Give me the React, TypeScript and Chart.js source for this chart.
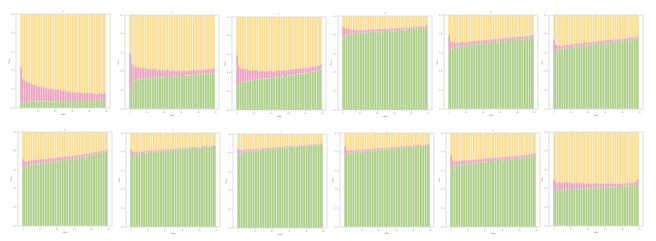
import React, { useEffect, useRef } from "react";
import { Chart, registerables } from "chart.js";

Chart.register(...registerables);

// ---------- data ----------
const STEPS = [0,1,2,3,4,5,6,7,8,9,10,11,12,13,14,15,16,17,18,19,20,21,22,23,24,25,26,27,28,29,30,31,32,33,34,35,36,37,38,39,40,41,42,43,44,45,46,47,48,49];
const X_TICKS = [0, 10, 20, 30, 40, 50];
const Y_TICKS = [0, 0.2, 0.4, 0.6, 0.8, 1.0];
const TOTAL = 1;
const TITLES = ["a", "b", "c", "d", "e", "f", "g", "h", "i", "j", "k", "l"];
const X_LABEL = "step";
const Y_LABEL = "frac";
const SERIES_NAMES = ["green", "pink", "yellow"];

// green segment top (share) for each panel
const P1_G = [0.05,0.06,0.065,0.065,0.068,0.07,0.068,0.068,0.07,0.07,0.07,0.071,0.07,0.071,0.07,0.072,0.072,0.07,0.072,0.071,0.072,0.073,0.072,0.074,0.073,0.072,0.074,0.073,0.074,0.075,0.074,0.073,0.075,0.074,0.075,0.076,0.074,0.075,0.076,0.075,0.076,0.077,0.075,0.076,0.077,0.076,0.077,0.078,0.077,0.078];
// pink segment top (cumulative share) for each panel
const P1_P = [0.44,0.31,0.29,0.28,0.27,0.27,0.26,0.25,0.25,0.24,0.23,0.23,0.22,0.23,0.21,0.22,0.21,0.2,0.21,0.2,0.19,0.2,0.19,0.19,0.18,0.19,0.18,0.17,0.18,0.17,0.17,0.16,0.17,0.16,0.17,0.16,0.15,0.16,0.15,0.16,0.15,0.16,0.15,0.15,0.14,0.15,0.16,0.15,0.15,0.16];

const P2_G = [0.21,0.29,0.3,0.31,0.31,0.315,0.32,0.32,0.32,0.325,0.325,0.33,0.33,0.33,0.335,0.335,0.335,0.34,0.34,0.34,0.34,0.345,0.345,0.345,0.35,0.35,0.35,0.35,0.355,0.355,0.355,0.355,0.36,0.36,0.36,0.36,0.365,0.365,0.365,0.365,0.37,0.37,0.37,0.37,0.375,0.375,0.375,0.38,0.38,0.385];
const P2_P = [0.59,0.48,0.46,0.45,0.44,0.45,0.44,0.43,0.44,0.43,0.43,0.42,0.43,0.42,0.43,0.42,0.41,0.42,0.41,0.42,0.41,0.41,0.42,0.41,0.4,0.41,0.41,0.4,0.41,0.41,0.4,0.41,0.41,0.4,0.41,0.41,0.41,0.42,0.41,0.41,0.42,0.41,0.42,0.42,0.42,0.42,0.43,0.42,0.43,0.43];

const P3_G = [0.25,0.29,0.3,0.305,0.31,0.31,0.315,0.32,0.32,0.32,0.325,0.325,0.33,0.33,0.33,0.335,0.335,0.34,0.34,0.34,0.345,0.345,0.35,0.35,0.355,0.355,0.36,0.36,0.365,0.365,0.37,0.37,0.375,0.375,0.38,0.385,0.385,0.39,0.39,0.395,0.4,0.4,0.405,0.41,0.41,0.415,0.42,0.425,0.43,0.435];
const P3_P = [0.59,0.47,0.45,0.44,0.44,0.43,0.44,0.43,0.42,0.43,0.42,0.43,0.42,0.41,0.42,0.42,0.41,0.42,0.41,0.42,0.42,0.41,0.42,0.42,0.43,0.42,0.42,0.43,0.42,0.43,0.43,0.43,0.44,0.43,0.44,0.44,0.44,0.45,0.45,0.45,0.46,0.45,0.46,0.46,0.47,0.46,0.47,0.47,0.48,0.49];

const P4_G = [0.77,0.79,0.8,0.805,0.81,0.81,0.815,0.815,0.815,0.82,0.82,0.82,0.82,0.825,0.825,0.825,0.83,0.83,0.83,0.83,0.835,0.835,0.835,0.835,0.84,0.84,0.84,0.84,0.845,0.845,0.845,0.845,0.85,0.85,0.85,0.855,0.855,0.855,0.86,0.86,0.86,0.865,0.865,0.865,0.87,0.87,0.87,0.875,0.875,0.88];
const P4_P = [0.89,0.87,0.86,0.87,0.86,0.85,0.86,0.85,0.85,0.855,0.85,0.855,0.855,0.85,0.855,0.86,0.855,0.86,0.86,0.855,0.86,0.86,0.865,0.86,0.865,0.865,0.86,0.865,0.87,0.865,0.87,0.87,0.87,0.875,0.87,0.875,0.875,0.88,0.875,0.88,0.88,0.885,0.885,0.885,0.89,0.89,0.89,0.895,0.895,0.9];

const P5_G = [0.6,0.64,0.65,0.655,0.66,0.66,0.665,0.67,0.67,0.675,0.675,0.68,0.68,0.685,0.685,0.69,0.69,0.69,0.695,0.695,0.7,0.7,0.7,0.705,0.705,0.71,0.71,0.71,0.715,0.715,0.72,0.72,0.72,0.725,0.725,0.73,0.73,0.73,0.735,0.735,0.74,0.74,0.74,0.745,0.745,0.75,0.75,0.75,0.755,0.76];
const P5_P = [0.79,0.72,0.71,0.71,0.7,0.71,0.7,0.71,0.71,0.7,0.71,0.71,0.72,0.71,0.72,0.72,0.72,0.73,0.72,0.73,0.73,0.73,0.74,0.73,0.74,0.74,0.74,0.75,0.74,0.75,0.75,0.75,0.75,0.76,0.75,0.76,0.76,0.76,0.77,0.76,0.77,0.77,0.77,0.78,0.77,0.78,0.78,0.78,0.79,0.79];

const P6_G = [0.6,0.62,0.63,0.635,0.64,0.64,0.645,0.65,0.65,0.655,0.655,0.66,0.66,0.665,0.665,0.67,0.67,0.675,0.675,0.68,0.68,0.68,0.685,0.685,0.69,0.69,0.695,0.695,0.7,0.7,0.7,0.705,0.705,0.71,0.71,0.715,0.715,0.72,0.72,0.725,0.725,0.73,0.73,0.735,0.735,0.74,0.74,0.745,0.75,0.755];
const P6_P = [0.74,0.69,0.68,0.68,0.67,0.68,0.68,0.68,0.69,0.68,0.69,0.69,0.69,0.7,0.69,0.7,0.7,0.7,0.71,0.7,0.71,0.71,0.71,0.72,0.71,0.72,0.72,0.72,0.73,0.72,0.73,0.73,0.73,0.74,0.73,0.74,0.74,0.74,0.75,0.74,0.75,0.75,0.75,0.76,0.76,0.76,0.76,0.77,0.77,0.78];

const P7_G = [0.61,0.63,0.64,0.645,0.65,0.65,0.655,0.66,0.66,0.665,0.665,0.67,0.67,0.675,0.675,0.68,0.68,0.685,0.685,0.69,0.69,0.695,0.7,0.7,0.705,0.705,0.71,0.71,0.715,0.72,0.72,0.725,0.725,0.73,0.735,0.735,0.74,0.74,0.745,0.75,0.75,0.755,0.76,0.765,0.77,0.775,0.78,0.785,0.79,0.8];
const P7_P = [0.71,0.69,0.69,0.69,0.695,0.7,0.7,0.7,0.705,0.705,0.71,0.71,0.71,0.715,0.715,0.72,0.72,0.72,0.725,0.725,0.73,0.73,0.735,0.735,0.74,0.74,0.74,0.745,0.745,0.75,0.75,0.755,0.755,0.76,0.76,0.765,0.765,0.77,0.77,0.775,0.775,0.78,0.785,0.79,0.79,0.795,0.8,0.805,0.81,0.82];

const P8_G = [0.74,0.76,0.77,0.775,0.78,0.78,0.785,0.785,0.79,0.79,0.79,0.795,0.795,0.8,0.8,0.8,0.805,0.805,0.81,0.81,0.81,0.815,0.815,0.815,0.82,0.82,0.82,0.825,0.825,0.825,0.83,0.83,0.83,0.835,0.835,0.835,0.84,0.84,0.84,0.845,0.845,0.845,0.85,0.85,0.85,0.855,0.855,0.86,0.86,0.865];
const P8_P = [0.83,0.8,0.8,0.8,0.805,0.8,0.805,0.81,0.81,0.81,0.81,0.815,0.815,0.815,0.82,0.82,0.82,0.82,0.825,0.825,0.825,0.83,0.83,0.83,0.83,0.835,0.835,0.835,0.84,0.84,0.84,0.84,0.845,0.845,0.845,0.85,0.85,0.85,0.85,0.855,0.855,0.855,0.86,0.86,0.86,0.865,0.865,0.865,0.87,0.875];

const P9_G = [0.78,0.8,0.805,0.81,0.81,0.815,0.815,0.82,0.82,0.82,0.825,0.825,0.83,0.83,0.83,0.835,0.835,0.835,0.84,0.84,0.84,0.845,0.845,0.845,0.85,0.85,0.85,0.855,0.855,0.855,0.86,0.86,0.86,0.865,0.865,0.865,0.87,0.87,0.87,0.875,0.875,0.875,0.88,0.88,0.88,0.885,0.885,0.89,0.89,0.895];
const P9_P = [0.85,0.83,0.83,0.83,0.835,0.835,0.835,0.84,0.84,0.84,0.84,0.845,0.845,0.845,0.85,0.85,0.85,0.85,0.855,0.855,0.855,0.86,0.86,0.86,0.86,0.865,0.865,0.865,0.87,0.87,0.87,0.87,0.875,0.875,0.875,0.88,0.88,0.88,0.88,0.885,0.885,0.885,0.89,0.89,0.89,0.895,0.895,0.895,0.9,0.905];

const P10_G = [0.76,0.78,0.785,0.79,0.79,0.795,0.795,0.8,0.8,0.8,0.805,0.805,0.81,0.81,0.81,0.815,0.815,0.815,0.82,0.82,0.82,0.825,0.825,0.825,0.83,0.83,0.83,0.835,0.835,0.835,0.84,0.84,0.84,0.845,0.845,0.845,0.85,0.85,0.85,0.855,0.855,0.855,0.86,0.86,0.86,0.865,0.865,0.87,0.87,0.875];
const P10_P = [0.86,0.82,0.815,0.815,0.82,0.815,0.82,0.82,0.825,0.82,0.825,0.825,0.83,0.83,0.83,0.83,0.835,0.835,0.835,0.84,0.84,0.84,0.84,0.845,0.845,0.845,0.85,0.85,0.85,0.85,0.855,0.855,0.855,0.86,0.86,0.86,0.86,0.865,0.865,0.865,0.87,0.87,0.87,0.875,0.875,0.875,0.88,0.88,0.885,0.89];

const P11_G = [0.62,0.645,0.65,0.655,0.66,0.66,0.665,0.665,0.67,0.67,0.675,0.675,0.68,0.68,0.68,0.685,0.685,0.69,0.69,0.69,0.695,0.695,0.7,0.7,0.7,0.705,0.705,0.71,0.71,0.71,0.715,0.715,0.72,0.72,0.72,0.725,0.725,0.73,0.73,0.73,0.735,0.735,0.74,0.74,0.74,0.745,0.745,0.75,0.75,0.755];
const P11_P = [0.77,0.71,0.7,0.7,0.705,0.7,0.705,0.71,0.71,0.705,0.71,0.715,0.715,0.72,0.715,0.72,0.72,0.725,0.72,0.725,0.73,0.73,0.73,0.735,0.735,0.735,0.74,0.74,0.74,0.745,0.745,0.745,0.75,0.75,0.75,0.755,0.755,0.755,0.76,0.76,0.76,0.765,0.765,0.765,0.77,0.77,0.775,0.775,0.78,0.785];

const P12_G = [0.36,0.375,0.38,0.38,0.385,0.385,0.385,0.39,0.39,0.39,0.39,0.395,0.395,0.395,0.395,0.4,0.4,0.4,0.4,0.4,0.405,0.405,0.405,0.405,0.405,0.41,0.41,0.41,0.41,0.41,0.41,0.415,0.415,0.415,0.415,0.415,0.42,0.42,0.42,0.42,0.42,0.425,0.425,0.425,0.425,0.43,0.43,0.435,0.44,0.455];
const P12_P = [0.5,0.47,0.46,0.47,0.46,0.465,0.46,0.47,0.46,0.465,0.46,0.455,0.46,0.465,0.455,0.46,0.455,0.46,0.45,0.455,0.46,0.455,0.45,0.455,0.46,0.455,0.45,0.455,0.45,0.455,0.45,0.455,0.45,0.45,0.455,0.45,0.455,0.45,0.455,0.45,0.455,0.45,0.455,0.46,0.455,0.46,0.46,0.465,0.47,0.5];

const GREEN_TOPS = [P1_G, P2_G, P3_G, P4_G, P5_G, P6_G, P7_G, P8_G, P9_G, P10_G, P11_G, P12_G];
const PINK_TOPS = [P1_P, P2_P, P3_P, P4_P, P5_P, P6_P, P7_P, P8_P, P9_P, P10_P, P11_P, P12_P];

// ---------- layout / style ----------
const COLORS = ["#aed08b", "#eca3bf", "#f9de95"];
const BOX_LEFT = [16, 124.5, 231.5, 337.5, 443.7, 548.7, 17.7, 125.7, 232.7, 339.7, 445.7, 548.7];
const BOX_TOP = [14, 15, 16.5, 16, 15, 15, 132, 133, 134, 133, 133, 132];
const BOX_W = 94;
const BOX_H = 93.5;
const PAD_L = 16, PAD_R = 6, PAD_T = 12, PAD_B = 12;
const TEXT_COLOR = "#8a8a8a";
const TICK_COLOR = "#cfcfcf";

const framePlugin = {
  id: "frame",
  afterDraw(chart: any) {
    const { ctx, chartArea: a, scales } = chart;
    const opts = chart.options.plugins.frame;
    const xs = scales.x, ys = scales.y;
    ctx.save();
    // box
    ctx.strokeStyle = "#d6d6d6";
    ctx.lineWidth = 0.8;
    ctx.strokeRect(a.left, a.top, a.right - a.left, a.bottom - a.top);
    // ticks
    ctx.strokeStyle = TICK_COLOR;
    ctx.lineWidth = 0.6;
    ctx.beginPath();
    X_TICKS.forEach((v) => {
      const px = xs.getPixelForValue(v);
      ctx.moveTo(px, a.bottom);
      ctx.lineTo(px, a.bottom + 1.5);
    });
    Y_TICKS.forEach((v) => {
      const py = ys.getPixelForValue(v);
      ctx.moveTo(a.left, py);
      ctx.lineTo(a.left - 1.5, py);
    });
    ctx.stroke();
    ctx.fillStyle = TEXT_COLOR;
    ctx.font = "2px 'DejaVu Sans'";
    ctx.textAlign = "center";
    ctx.textBaseline = "top";
    X_TICKS.forEach((v) => {
      ctx.fillText(String(v), xs.getPixelForValue(v), a.bottom + 2);
    });
    ctx.textAlign = "right";
    ctx.textBaseline = "middle";
    Y_TICKS.forEach((v) => {
      ctx.fillText(v.toFixed(1), a.left - 2, ys.getPixelForValue(v));
    });
    // titles
    ctx.font = "2.4px 'DejaVu Sans'";
    ctx.textAlign = "center";
    ctx.textBaseline = "bottom";
    ctx.fillText(opts.title, (a.left + a.right) / 2, a.top - 1.2);
    ctx.textBaseline = "top";
    ctx.fillText(opts.xLabel, (a.left + a.right) / 2, a.bottom + 4.8);
    ctx.translate(a.left - 7, (a.top + a.bottom) / 2);
    ctx.rotate(-Math.PI / 2);
    ctx.textBaseline = "middle";
    ctx.fillText(opts.yLabel, 0, 0);
    ctx.restore();
  },
};

function Panel({ idx }: { idx: number }) {
  const ref = useRef<HTMLCanvasElement | null>(null);
  useEffect(() => {
    if (!ref.current) return;
    const g = GREEN_TOPS[idx];
    const p = PINK_TOPS[idx];
    const common = {
      grouped: false,
      barPercentage: 1,
      categoryPercentage: 1,
      borderColor: "rgba(255,255,255,0.5)",
      borderWidth: { left: 0.35, right: 0.35, top: 0, bottom: 0 },
      borderSkipped: false,
    };
    const chart = new Chart(ref.current, {
      type: "bar",
      data: {
        datasets: [
          { ...common, label: SERIES_NAMES[0], backgroundColor: COLORS[0], data: STEPS.map((s, i) => ({ x: s, y: [0, g[i]] })) },
          { ...common, label: SERIES_NAMES[1], backgroundColor: COLORS[1], data: STEPS.map((s, i) => ({ x: s, y: [g[i], p[i]] })) },
          { ...common, label: SERIES_NAMES[2], backgroundColor: COLORS[2], data: STEPS.map((s, i) => ({ x: s, y: [p[i], TOTAL] })) },
        ] as any,
      },
      options: {
        animation: false,
        responsive: false,
        maintainAspectRatio: false,
        layout: { padding: { left: PAD_L, right: PAD_R, top: PAD_T, bottom: PAD_B } },
        plugins: {
          legend: { display: false },
          tooltip: { enabled: false },
          title: { display: false },
          frame: { title: TITLES[idx], xLabel: X_LABEL, yLabel: Y_LABEL },
        } as any,
        scales: {
          x: {
            type: "linear",
            display: false,
            offset: false,
            min: -3,
            max: 52,
            grid: { offset: false },
          },
          y: {
            type: "linear",
            display: false,
            min: 0,
            max: 1,
          },
        },
      } as any,
      plugins: [framePlugin],
    });
    return () => chart.destroy();
  }, [idx]);

  const w = BOX_W + PAD_L + PAD_R;
  const h = BOX_H + PAD_T + PAD_B;
  return (
    <canvas
      ref={ref}
      width={w}
      height={h}
      style={{
        position: "absolute",
        left: BOX_LEFT[idx] - PAD_L,
        top: BOX_TOP[idx] - PAD_T,
        width: w,
        height: h,
      }}
    />
  );
}

export default function App() {
  return (
    <div
      style={{
        position: "fixed",
        left: 0,
        top: 0,
        width: 656,
        height: 241,
        background: "#ffffff",
        overflow: "hidden",
      }}
    >
      {GREEN_TOPS.map((_, i) => (
        <Panel key={i} idx={i} />
      ))}
    </div>
  );
}
